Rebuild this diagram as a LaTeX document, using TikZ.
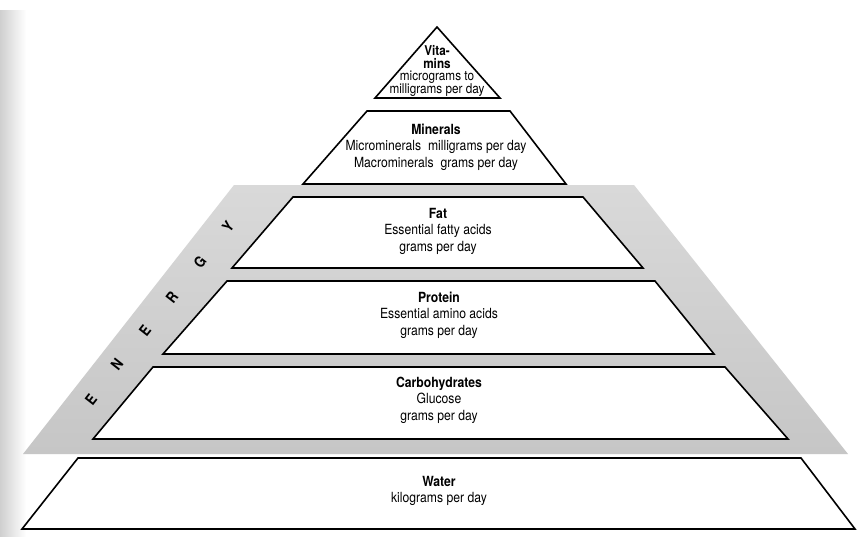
\documentclass[tikz,border=0pt]{standalone}
\usepackage{fontspec}
\setmainfont{TeX Gyre Heros}[FakeStretch=0.87]
\definecolor{band-grey}{HTML}{C6C6C6}
\definecolor{band-light}{HTML}{D9D9D9}
\definecolor{gutter-grey}{HTML}{CFCFCF}

\tikzset{
  tier/.style={draw=black, line width=1.6pt, fill=white, line join=miter},
  label/.style={font=\fontsize{14}{16.5}\selectfont, align=center, inner sep=0pt},
  energy/.style={font=\fontsize{15}{15}\selectfont\bfseries, rotate=52, inner sep=0pt}
}

\begin{document}
\begin{tikzpicture}[x=1pt, y=-1pt]
  \useasboundingbox (0,0) rectangle (858,536);
  \fill[white] (0,0) rectangle (858,536);
  % page edge of the scan
  \shade[left color=gutter-grey, right color=white] (0,10) rectangle (26,536);
  % energy band behind the middle tiers
  \shade[top color=band-light, bottom color=band-grey]
    (234,185) -- (634,185) -- (848,454) -- (23,454) -- cycle;
  % tiers, top to bottom
  \draw[tier] (437,27) -- (500,98) -- (375,98) -- cycle;
  \draw[tier] (367,111) -- (510,111) -- (566,184) -- (303,184) -- cycle;
  \draw[tier] (293,197) -- (583,197) -- (643,268) -- (232,268) -- cycle;
  \draw[tier] (227,281) -- (655,281) -- (714,354) -- (163,354) -- cycle;
  \draw[tier] (153,367) -- (725,367) -- (788,439) -- (93,439) -- cycle;
  \draw[tier] (78,458) -- (801,458) -- (855,529) -- (22,529) -- cycle;
  % tier texts
  \node[label, font=\fontsize{13.5}{12.8}\selectfont] (vitamins) at (437,71)
       {\textbf{Vita-}\\\textbf{mins}\\micrograms to\\milligrams per day};
  \node[label] (minerals) at (436,147)
       {\textbf{Minerals}\\Microminerals\ \ milligrams per day\\Macrominerals\ \ grams per day};
  \node[label] (fat) at (438,231)
       {\textbf{Fat}\\Essential fatty acids\\grams per day};
  \node[label] (protein) at (439,315)
       {\textbf{Protein}\\Essential amino acids\\grams per day};
  \node[label] (carbs) at (439,400)
       {\textbf{Carbohydrates}\\Glucose\\grams per day};
  \node[label] (water) at (439,491)
       {\textbf{Water}\\kilograms per day};
  % letters along the band
  \node[energy] (en1) at (91,400) {E};
  \node[energy] (en2) at (117,364) {N};
  \node[energy] (en3) at (145,331) {E};
  \node[energy] (en4) at (172,297) {R};
  \node[energy] (en5) at (200,262) {G};
  \node[energy] (en6) at (228,227) {Y};
\end{tikzpicture}
\end{document}
